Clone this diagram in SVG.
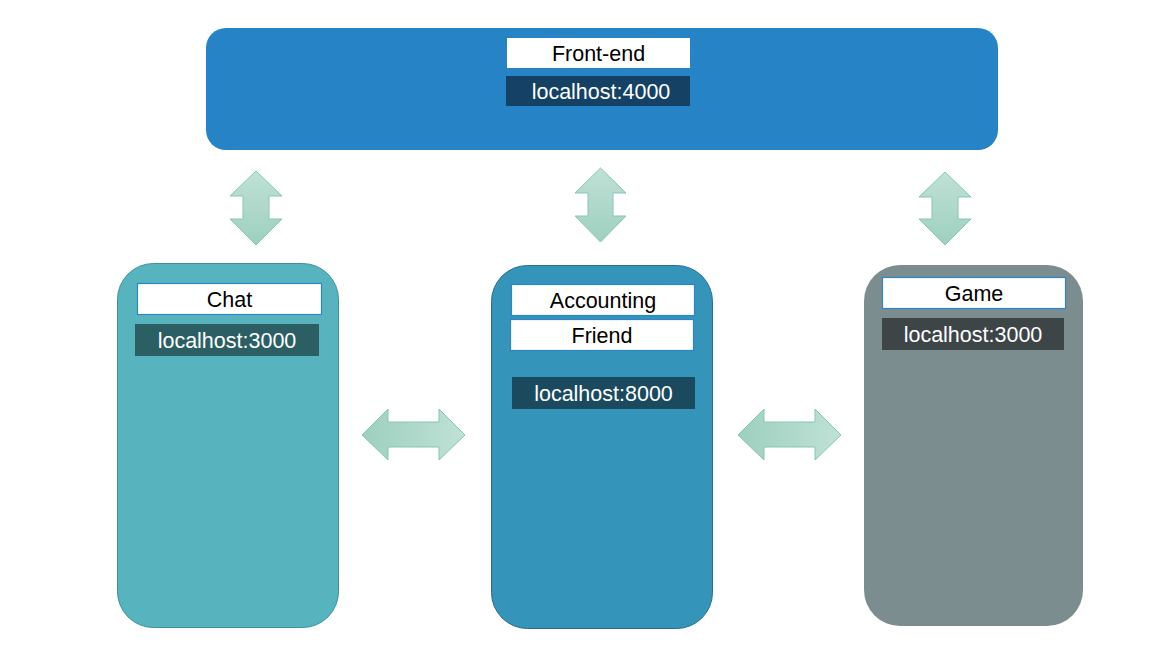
<svg xmlns="http://www.w3.org/2000/svg" width="1157" height="652" viewBox="0 0 1157 652">
<defs>
<linearGradient id="gv" x1="0" y1="0" x2="0" y2="1"><stop offset="0" stop-color="#c0e1d6"/><stop offset="1" stop-color="#9dd0be"/></linearGradient>
<linearGradient id="gh" x1="0" y1="0" x2="1" y2="0"><stop offset="0" stop-color="#9dd0be"/><stop offset="1" stop-color="#c0e1d6"/></linearGradient>
<style>
.lbl{fill:#ffffff;stroke:#2e86c9;stroke-width:1.2}
.t{font-family:"Liberation Sans",Arial,sans-serif;font-size:21.5px;text-anchor:middle}
.dk{fill:#000000}
.wt{fill:#ffffff}
.av{fill:url(#gv);stroke:#86c7b0;stroke-width:1}
.ah{fill:url(#gh);stroke:#86c7b0;stroke-width:1}
</style>
</defs>
<rect width="1157" height="652" fill="#ffffff"/>
<g id="frontend">
<rect x="206" y="28" width="792" height="122" rx="20" fill="#2683c6"/>
<rect x="507" y="38" width="183" height="30" fill="#ffffff"/>
<text class="t dk" x="598.5" y="61">Front-end</text>
<rect x="506" y="76" width="184" height="30" fill="#154164"/>
<text class="t wt" x="601" y="99">localhost:4000</text>
</g>
<g id="chat">
<rect x="117.5" y="263.5" width="221" height="364" rx="36" fill="#57b4bf" stroke="#3d8f99" stroke-width="1"/>
<rect class="lbl" x="137.5" y="283.5" width="184" height="31"/>
<text class="t dk" x="229.5" y="307">Chat</text>
<rect x="135" y="324" width="184" height="32" fill="#2b5f63"/>
<text class="t wt" x="227" y="348">localhost:3000</text>
</g>
<g id="accounting">
<rect x="491.5" y="265.5" width="221" height="363" rx="36" fill="#3594ba" stroke="#246f8e" stroke-width="1"/>
<rect class="lbl" x="511.5" y="284.5" width="183" height="31"/>
<text class="t dk" x="603" y="308">Accounting</text>
<rect class="lbl" x="510.5" y="319.5" width="183" height="31"/>
<text class="t dk" x="602" y="343">Friend</text>
<rect x="512" y="377" width="183" height="32" fill="#1b4a5e"/>
<text class="t wt" x="603.5" y="401">localhost:8000</text>
</g>
<g id="game">
<rect x="864" y="265" width="219" height="361" rx="36" fill="#7b8d8e"/>
<rect class="lbl" x="882.5" y="277.5" width="183" height="31"/>
<text class="t dk" x="974" y="301">Game</text>
<rect x="882" y="318" width="182" height="32" fill="#3d4547"/>
<text class="t wt" x="973" y="342">localhost:3000</text>
</g>
<g id="connectors">
<path class="av" d="M256,171 L282,196 L269,196 L269,219 L282,219 L256,245 L230,219 L243,219 L243,196 L230,196 Z"/>
<path class="av" d="M600.5,168 L626,193 L613,193 L613,216 L626,216 L600.5,242 L575,216 L588,216 L588,193 L575,193 Z"/>
<path class="av" d="M945,172 L971,197 L958,197 L958,219 L971,219 L945,245 L919,219 L932,219 L932,197 L919,197 Z"/>
<path class="ah" d="M362,435 L388,409 L388,422 L439,422 L439,409 L465,435 L439,460 L439,447 L388,447 L388,460 Z"/>
<path class="ah" d="M738,435 L764,409 L764,422 L815,422 L815,409 L841,435 L815,460 L815,447 L764,447 L764,460 Z"/>
</g>
</svg>
